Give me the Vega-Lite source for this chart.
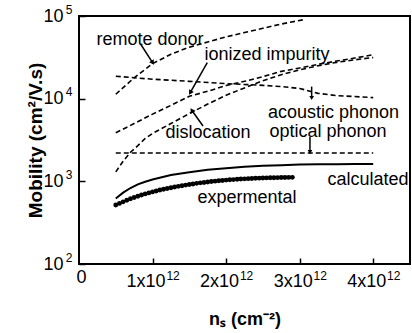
{
  "$schema": "https://vega.github.io/schema/vega-lite/v6.json",
  "width": 331,
  "height": 248,
  "autosize": "none",
  "padding": {"left": 79, "top": 16, "right": 2, "bottom": 69},
  "background": "white",
  "config": {
    "view": {"stroke": "black", "strokeWidth": 2},
    "font": "Liberation Sans",
    "axis": {"grid": false, "domain": false, "tickColor": "black", "tickWidth": 1.5, "labelColor": "black", "titleColor": "black", "labelFont": "Liberation Sans", "titleFont": "Liberation Sans", "labelFlush": false, "labelOverlap": false}
  },
  "resolve": {"axis": {"x": "independent", "y": "independent"}},
  "datasets": {
    "curves": [
      {"ns": 0.5, "mu": 11300, "series": "remote donor"},
      {"ns": 0.75, "mu": 17900, "series": "remote donor"},
      {"ns": 1.0, "mu": 26500, "series": "remote donor"},
      {"ns": 1.25, "mu": 34500, "series": "remote donor"},
      {"ns": 1.5, "mu": 42000, "series": "remote donor"},
      {"ns": 1.75, "mu": 48500, "series": "remote donor"},
      {"ns": 2.0, "mu": 56000, "series": "remote donor"},
      {"ns": 2.25, "mu": 63000, "series": "remote donor"},
      {"ns": 2.5, "mu": 71000, "series": "remote donor"},
      {"ns": 2.75, "mu": 80000, "series": "remote donor"},
      {"ns": 3.05, "mu": 90000, "series": "remote donor"},

      {"ns": 0.5, "mu": 18700, "series": "acoustic phonon"},
      {"ns": 0.75, "mu": 17900, "series": "acoustic phonon"},
      {"ns": 1.0, "mu": 17200, "series": "acoustic phonon"},
      {"ns": 1.5, "mu": 16200, "series": "acoustic phonon"},
      {"ns": 2.0, "mu": 15200, "series": "acoustic phonon"},
      {"ns": 2.5, "mu": 14500, "series": "acoustic phonon"},
      {"ns": 2.75, "mu": 14000, "series": "acoustic phonon"},
      {"ns": 3.0, "mu": 13300, "series": "acoustic phonon"},
      {"ns": 3.25, "mu": 11600, "series": "acoustic phonon"},
      {"ns": 3.5, "mu": 10900, "series": "acoustic phonon"},
      {"ns": 3.75, "mu": 10600, "series": "acoustic phonon"},
      {"ns": 4.0, "mu": 10300, "series": "acoustic phonon"},

      {"ns": 0.5, "mu": 3870, "series": "ionized impurity"},
      {"ns": 0.75, "mu": 5000, "series": "ionized impurity"},
      {"ns": 1.0, "mu": 6500, "series": "ionized impurity"},
      {"ns": 1.25, "mu": 8300, "series": "ionized impurity"},
      {"ns": 1.5, "mu": 10700, "series": "ionized impurity"},
      {"ns": 1.75, "mu": 12300, "series": "ionized impurity"},
      {"ns": 2.0, "mu": 14400, "series": "ionized impurity"},
      {"ns": 2.25, "mu": 16200, "series": "ionized impurity"},
      {"ns": 2.5, "mu": 18500, "series": "ionized impurity"},
      {"ns": 2.75, "mu": 21400, "series": "ionized impurity"},
      {"ns": 3.0, "mu": 23500, "series": "ionized impurity"},
      {"ns": 3.25, "mu": 26000, "series": "ionized impurity"},
      {"ns": 3.5, "mu": 28500, "series": "ionized impurity"},
      {"ns": 3.75, "mu": 31000, "series": "ionized impurity"},
      {"ns": 4.0, "mu": 34000, "series": "ionized impurity"},

      {"ns": 0.5, "mu": 1300, "series": "dislocation"},
      {"ns": 0.6, "mu": 1750, "series": "dislocation"},
      {"ns": 0.7, "mu": 2250, "series": "dislocation"},
      {"ns": 0.8, "mu": 2700, "series": "dislocation"},
      {"ns": 0.9, "mu": 3300, "series": "dislocation"},
      {"ns": 1.0, "mu": 3800, "series": "dislocation"},
      {"ns": 1.25, "mu": 5000, "series": "dislocation"},
      {"ns": 1.5, "mu": 6600, "series": "dislocation"},
      {"ns": 1.75, "mu": 8600, "series": "dislocation"},
      {"ns": 2.0, "mu": 11000, "series": "dislocation"},
      {"ns": 2.25, "mu": 13500, "series": "dislocation"},
      {"ns": 2.5, "mu": 16500, "series": "dislocation"},
      {"ns": 2.75, "mu": 19500, "series": "dislocation"},
      {"ns": 3.0, "mu": 22300, "series": "dislocation"},
      {"ns": 3.25, "mu": 25000, "series": "dislocation"},
      {"ns": 3.5, "mu": 27500, "series": "dislocation"},
      {"ns": 3.75, "mu": 29500, "series": "dislocation"},
      {"ns": 4.0, "mu": 31500, "series": "dislocation"},

      {"ns": 0.5, "mu": 2200, "series": "optical phonon"},
      {"ns": 4.0, "mu": 2200, "series": "optical phonon"},

      {"ns": 0.5, "mu": 620, "series": "calculated"},
      {"ns": 0.6, "mu": 730, "series": "calculated"},
      {"ns": 0.7, "mu": 830, "series": "calculated"},
      {"ns": 0.8, "mu": 920, "series": "calculated"},
      {"ns": 0.9, "mu": 990, "series": "calculated"},
      {"ns": 1.0, "mu": 1050, "series": "calculated"},
      {"ns": 1.25, "mu": 1190, "series": "calculated"},
      {"ns": 1.5, "mu": 1290, "series": "calculated"},
      {"ns": 1.75, "mu": 1380, "series": "calculated"},
      {"ns": 2.0, "mu": 1440, "series": "calculated"},
      {"ns": 2.25, "mu": 1500, "series": "calculated"},
      {"ns": 2.5, "mu": 1540, "series": "calculated"},
      {"ns": 2.75, "mu": 1570, "series": "calculated"},
      {"ns": 3.0, "mu": 1595, "series": "calculated"},
      {"ns": 3.25, "mu": 1605, "series": "calculated"},
      {"ns": 3.5, "mu": 1612, "series": "calculated"},
      {"ns": 3.75, "mu": 1616, "series": "calculated"},
      {"ns": 4.0, "mu": 1620, "series": "calculated"}
    ],
    "experimental": [
      {"ns": 0.50, "mu": 517}, {"ns": 0.55, "mu": 541}, {"ns": 0.60, "mu": 565}, {"ns": 0.65, "mu": 590},
      {"ns": 0.70, "mu": 615}, {"ns": 0.75, "mu": 638}, {"ns": 0.80, "mu": 660}, {"ns": 0.85, "mu": 683},
      {"ns": 0.90, "mu": 705}, {"ns": 0.95, "mu": 725}, {"ns": 1.00, "mu": 745}, {"ns": 1.05, "mu": 765},
      {"ns": 1.10, "mu": 785}, {"ns": 1.15, "mu": 803}, {"ns": 1.20, "mu": 820}, {"ns": 1.25, "mu": 838},
      {"ns": 1.30, "mu": 855}, {"ns": 1.35, "mu": 870}, {"ns": 1.40, "mu": 885}, {"ns": 1.45, "mu": 900},
      {"ns": 1.50, "mu": 915}, {"ns": 1.55, "mu": 930}, {"ns": 1.60, "mu": 945}, {"ns": 1.65, "mu": 958},
      {"ns": 1.70, "mu": 970}, {"ns": 1.75, "mu": 983}, {"ns": 1.80, "mu": 995}, {"ns": 1.85, "mu": 1005},
      {"ns": 1.90, "mu": 1015}, {"ns": 1.95, "mu": 1025}, {"ns": 2.00, "mu": 1035}, {"ns": 2.05, "mu": 1043},
      {"ns": 2.10, "mu": 1050}, {"ns": 2.15, "mu": 1058}, {"ns": 2.20, "mu": 1065}, {"ns": 2.25, "mu": 1072},
      {"ns": 2.30, "mu": 1078}, {"ns": 2.35, "mu": 1083}, {"ns": 2.40, "mu": 1088}, {"ns": 2.45, "mu": 1092},
      {"ns": 2.50, "mu": 1096}, {"ns": 2.55, "mu": 1100}, {"ns": 2.60, "mu": 1103}, {"ns": 2.65, "mu": 1106},
      {"ns": 2.70, "mu": 1108}, {"ns": 2.75, "mu": 1111}, {"ns": 2.80, "mu": 1113}, {"ns": 2.85, "mu": 1115},
      {"ns": 2.90, "mu": 1117}
    ],
    "labels": [
      {"ns": 0.965, "mu": 44600, "text": "remote donor"},
      {"ns": 2.556, "mu": 29400, "text": "ionized impurity"},
      {"ns": 1.754, "mu": 3340, "text": "dislocation"},
      {"ns": 3.46, "mu": 5830, "text": "acoustic phonon"},
      {"ns": 3.385, "mu": 3440, "text": "optical phonon"},
      {"ns": 3.929, "mu": 904, "text": "calculated"},
      {"ns": 2.284, "mu": 547, "text": "expermental"}
    ],
    "arrows": [
      {"id": 1, "x": 0.839, "y": 45500, "x2": 0.996, "y2": 27700},
      {"id": 2, "x": 1.744, "y": 27200, "x2": 1.518, "y2": 12050},
      {"id": 3, "x": 1.686, "y": 4670, "x2": 1.54, "y2": 7100},
      {"id": 4, "x": 3.163, "y": 14000, "x2": 3.163, "y2": 10400},
      {"id": 5, "x": 3.14, "y": 3440, "x2": 3.14, "y2": 2300}
    ]
  },
  "layer": [
    {
      "data": {"name": "curves"},
      "transform": [{"filter": "datum.series != 'calculated'"}],
      "mark": {"type": "line", "color": "black", "strokeWidth": 1.6, "strokeDash": [5, 3], "clip": true},
      "encoding": {
        "x": {
          "field": "ns", "type": "quantitative",
          "scale": {"domain": [0, 4.5], "nice": false, "zero": false},
          "axis": {
            "orient": "bottom",
            "values": [1, 2, 3, 4],
            "tickSize": -6,
            "labelPadding": 14,
            "labelFontSize": 18,
            "labelOffset": -7,
            "labelExpr": "datum.value + 'x10'",
            "title": "nₛ (cm⁻²)",
            "titleFontSize": 18,
            "titleFontWeight": "bold",
            "titlePadding": 20
          }
        },
        "y": {
          "field": "mu", "type": "quantitative",
          "scale": {"type": "log", "domain": [100, 100000], "nice": false},
          "axis": {
            "orient": "left",
            "values": [100, 1000, 10000, 100000],
            "tickSize": -6,
            "labelPadding": 22,
            "labelFontSize": 18,
            "labelExpr": "'10'",
            "title": "Mobility (cm²/V.s)",
            "titleFontSize": 19,
            "titleFontWeight": "bold",
            "titleAngle": -90,
            "titleX": -44,
            "titleY": 124,
            "titleBaseline": "middle",
            "titleAlign": "center"
          }
        },
        "detail": {"field": "series"}
      }
    },
    {
      "data": {"name": "curves"},
      "transform": [{"filter": "datum.series == 'calculated'"}],
      "mark": {"type": "line", "color": "black", "strokeWidth": 2},
      "encoding": {
        "x": {
          "field": "ns", "type": "quantitative",
          "axis": {
            "orient": "bottom",
            "values": [1, 2, 3, 4],
            "ticks": false,
            "labelPadding": 6,
            "labelFontSize": 12,
            "labelOffset": 20,
            "labelExpr": "'12'",
            "title": null
          }
        },
        "y": {
          "field": "mu", "type": "quantitative",
          "axis": {
            "orient": "left",
            "values": [100, 1000, 10000, 100000],
            "ticks": false,
            "labelPadding": 7,
            "labelFontSize": 12,
            "labelOffset": -7,
            "labelExpr": "datum.value == 100 ? '2' : datum.value == 1000 ? '3' : datum.value == 10000 ? '4' : '5'",
            "title": null
          }
        }
      }
    },
    {
      "data": {"name": "experimental"},
      "mark": {"type": "point", "filled": true, "color": "black", "opacity": 1, "size": 24},
      "encoding": {
        "x": {
          "field": "ns", "type": "quantitative",
          "axis": {
            "orient": "bottom",
            "values": [0],
            "ticks": false,
            "labelPadding": 4,
            "labelFontSize": 18,
            "labelOffset": 2,
            "labelExpr": "'0'",
            "title": null
          }
        },
        "y": {"field": "mu", "type": "quantitative", "axis": null}
      }
    },
    {
      "data": {"name": "labels"},
      "mark": {"type": "text", "font": "Liberation Sans", "fontSize": 18, "align": "center", "baseline": "alphabetic", "color": "black"},
      "encoding": {
        "x": {"field": "ns", "type": "quantitative", "axis": null},
        "y": {"field": "mu", "type": "quantitative", "axis": null},
        "text": {"field": "text"}
      }
    },
    {
      "data": {"name": "arrows"},
      "mark": {"type": "rule", "color": "black", "strokeWidth": 1.5},
      "encoding": {
        "x": {"field": "x", "type": "quantitative", "axis": null},
        "y": {"field": "y", "type": "quantitative", "axis": null},
        "x2": {"field": "x2"},
        "y2": {"field": "y2"}
      }
    },
    {
      "data": {"name": "arrows"},
      "transform": [{"filter": "datum.id == 1"}],
      "mark": {"type": "point", "shape": "triangle", "filled": true, "color": "black", "opacity": 1, "size": 30, "angle": 147},
      "encoding": {"x": {"field": "x2", "type": "quantitative", "axis": null}, "y": {"field": "y2", "type": "quantitative", "axis": null}}
    },
    {
      "data": {"name": "arrows"},
      "transform": [{"filter": "datum.id == 2"}],
      "mark": {"type": "point", "shape": "triangle", "filled": true, "color": "black", "opacity": 1, "size": 30, "angle": 210},
      "encoding": {"x": {"field": "x2", "type": "quantitative", "axis": null}, "y": {"field": "y2", "type": "quantitative", "axis": null}}
    },
    {
      "data": {"name": "arrows"},
      "transform": [{"filter": "datum.id == 3"}],
      "mark": {"type": "point", "shape": "triangle", "filled": true, "color": "black", "opacity": 1, "size": 30, "angle": 325},
      "encoding": {"x": {"field": "x2", "type": "quantitative", "axis": null}, "y": {"field": "y2", "type": "quantitative", "axis": null}}
    },
    {
      "data": {"name": "arrows"},
      "transform": [{"filter": "datum.id >= 4"}],
      "mark": {"type": "point", "shape": "triangle", "filled": true, "color": "black", "opacity": 1, "size": 22, "angle": 180},
      "encoding": {"x": {"field": "x2", "type": "quantitative", "axis": null}, "y": {"field": "y2", "type": "quantitative", "axis": null}}
    }
  ]
}
